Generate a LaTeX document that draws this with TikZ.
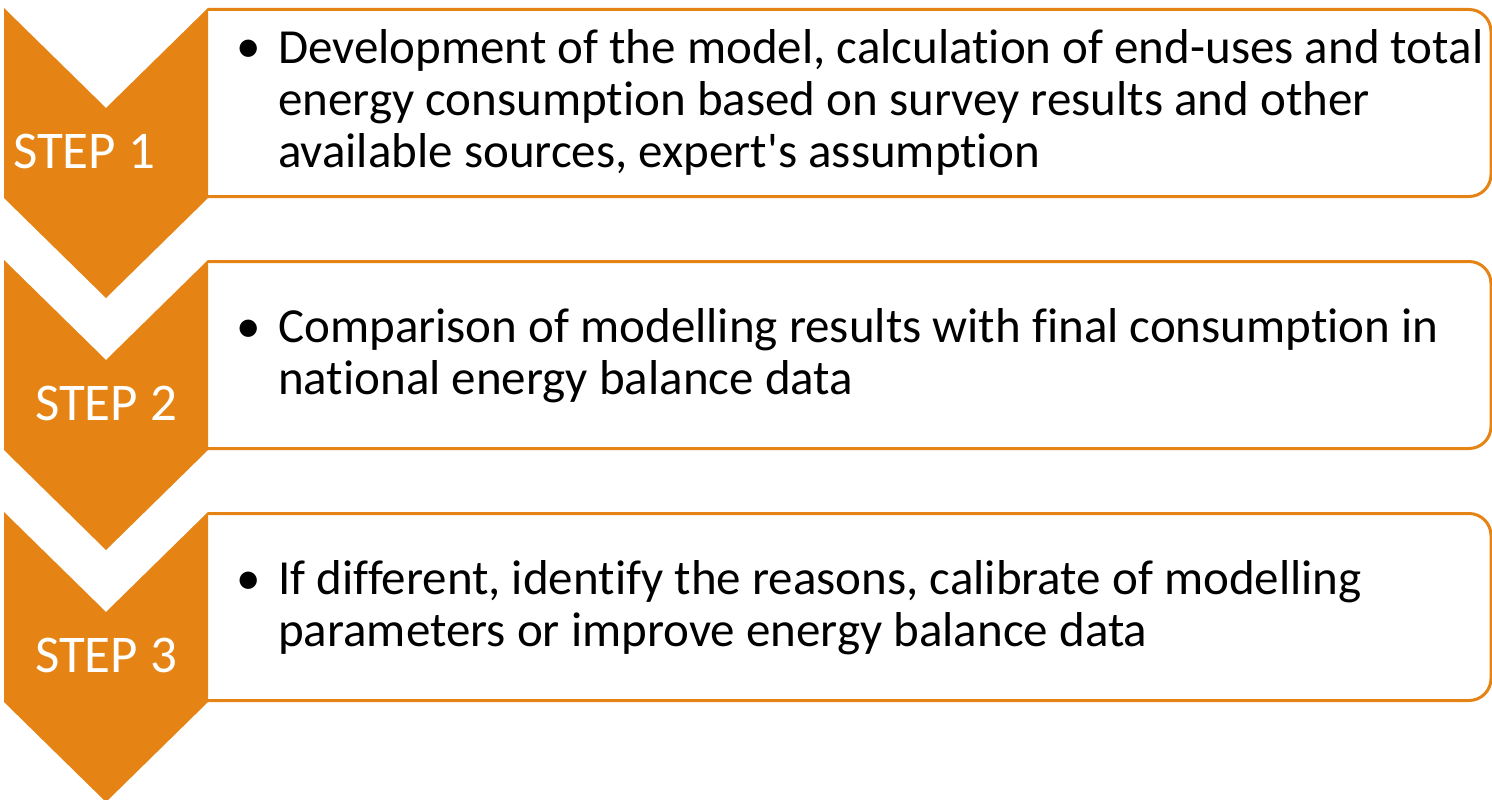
\documentclass[tikz,border=0pt]{standalone}
\usepackage{fontspec}
\setmainfont{Carlito}[Ligatures=NoCommon]
\definecolor{steporange}{RGB}{229,132,20}
\begin{document}
\begin{tikzpicture}[x=1pt,y=-1pt,
  chev/.style={fill=steporange},
  box/.style={draw=steporange, line width=3pt, rounded corners=22pt},
  steplabel/.style={text=white, font=\fontsize{53}{60}\selectfont, anchor=base, inner sep=0pt},
  body/.style={font=\fontsize{49}{52}\selectfont, anchor=base west, align=left, inner sep=0pt},
  dot/.style={font=\fontsize{49}{52}\selectfont, anchor=base west, inner sep=0pt}]
\useasboundingbox (0,0) rectangle (1492,800);

% three steps: outlined box, chevron on top, label and bullet text
\foreach \t/\b in {8/9.5, 260/261.5, 512/513.5}{
  \draw[box] (208,\b) -- (1491,\b) -- (1491,\b+187) -- (208,\b+187);
  \fill[chev] (4,\t) -- (106,\t+100) -- (208,\t) -- (208,\t+190)
     -- (106,\t+290) -- (4,\t+190) -- cycle;
}

\node[steplabel] (s1) at (84,168) {STEP 1};
\node[steplabel] (s2) at (106,420) {STEP 2};
\node[steplabel] (s3) at (106,672) {STEP 3};

% body texts are placed by the baseline of their last line
\node[dot] (d1) at (236,63) {•};
\node[body] (t1) at (278,167) {Development of the model, calculation of end-uses and total\\
energy consumption based on survey results and other\\
available sources, expert\textquotesingle s assumption};

\node[dot] (d2) at (236,342) {•};
\node[body] (t2) at (278,394) {Comparison of modelling results with final consumption in\\
national energy balance data};

\node[dot] (d3) at (236,594) {•};
\node[body] (t3) at (278,646) {If different, identify the reasons, calibrate of modelling\\
parameters or improve energy balance data};
\end{tikzpicture}
\end{document}
